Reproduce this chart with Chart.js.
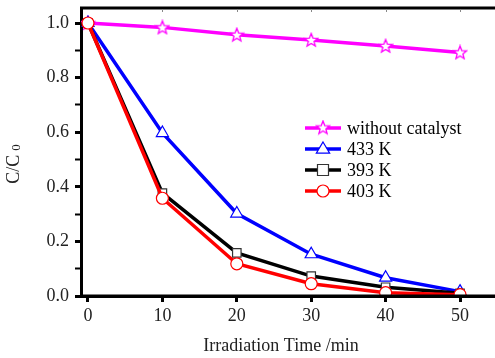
<!DOCTYPE html>
<html>
<head>
<meta charset="utf-8">
<script src="https://cdn.jsdelivr.net/npm/chart.js@4.4.0/dist/chart.umd.min.js"></script>
<style>
  html, body { margin: 0; padding: 0; background: #fff; }
  #wrap { width: 495px; height: 358px; position: relative; }
</style>
</head>
<body>
<div id="wrap"><canvas id="chart"></canvas></div>
<script>
// data
var times = [0, 10, 20, 30, 40, 50];
var noCatalyst = [1.0, 0.984, 0.957, 0.938, 0.916, 0.892];
var k433 = [1.0, 0.597, 0.302, 0.153, 0.067, 0.016];
var k393 = [1.0, 0.377, 0.158, 0.073, 0.032, 0.010];
var k403 = [1.0, 0.358, 0.118, 0.045, 0.012, 0.005];
var seriesNames = ['without catalyst', '433 K', '393 K', '403 K'];
var xTicks = [0, 10, 20, 30, 40, 50];

var serif = '"Liberation Serif", "DejaVu Serif", serif';

function starImage(color) {
    var c = document.createElement('canvas');
    c.width = 16; c.height = 16;
    var g = c.getContext('2d');
    g.fillStyle = '#fff';
    g.strokeStyle = color;
    g.lineWidth = 1.3;
    g.beginPath();
    for (var i = 0; i < 10; i++) {
        var r = (i % 2 === 0) ? 7 : 3;
        var a = -Math.PI / 2 + i * Math.PI / 5;
        var px = 8 + r * Math.cos(a), py = 8.5 + r * Math.sin(a);
        if (i === 0) g.moveTo(px, py); else g.lineTo(px, py);
    }
    g.closePath();
    g.fill();
    g.stroke();
    return c;
}
var star = starImage('#ff00ff');

function pts(arr) {
    return arr.map(function (v, i) { return { x: times[i], y: v }; });
}

var styles = [
    { color: '#ff00ff', point: star, radius: 7, order: 4 },
    { color: '#0000ff', point: 'triangle', radius: 7, order: 3 },
    { color: '#000000', point: 'rect', radius: 6, order: 2 },
    { color: '#ff0000', point: 'circle', radius: 6, order: 1 }
];
var values = [noCatalyst, k433, k393, k403];

var datasets = values.map(function (v, i) {
    var s = styles[i];
    return {
        label: seriesNames[i],
        data: pts(v),
        borderColor: s.color,
        borderWidth: 3.5,
        pointStyle: s.point,
        pointRadius: s.radius,
        pointBorderColor: i === 2 ? '#333' : s.color,
        pointBackgroundColor: '#fff',
        pointBorderWidth: 1.2,
        order: s.order,
        tension: 0
    };
});

var decor = {
    id: 'decor',
    afterDraw: function (chart) {
        var ctx = chart.ctx, a = chart.chartArea;
        var W = chart.width;
        ctx.save();
        // top border and axis line running to the edge
        ctx.fillStyle = '#000';
        ctx.fillRect(a.left - 1, a.top - 1.5, W - a.left + 1, 3);
        ctx.fillRect(a.left - 1, a.bottom - 1.5, W - a.left + 1, 3);
        // small inward ticks on top
        var xs = chart.scales.x;
        ctx.fillStyle = '#888';
        xTicks.forEach(function (t) {
            if (t === 0) return;
            ctx.fillRect(Math.round(xs.getPixelForValue(t)), a.top + 1, 1, 3);
        });

        // legend
        var lx = 305, ly = 128, gap = 21;
        ctx.textBaseline = 'middle';
        datasets.forEach(function (d, i) {
            var y = ly + i * gap;
            var s = styles[i];
            var cx = lx + 18;
            ctx.strokeStyle = s.color;
            ctx.lineWidth = 3.5;
            ctx.beginPath();
            ctx.moveTo(lx, y);
            ctx.lineTo(lx + 36, y);
            ctx.stroke();
            ctx.fillStyle = '#fff';
            ctx.strokeStyle = i === 2 ? '#333' : s.color;
            ctx.lineWidth = 1.2;
            if (s.point === star) {
                ctx.drawImage(star, cx - 8, y - 8.5);
            } else {
                ctx.beginPath();
                if (s.point === 'circle') {
                    ctx.arc(cx, y, s.radius, 0, Math.PI * 2);
                } else if (s.point === 'rect') {
                    ctx.rect(cx - 5.5, y - 5.5, 11, 11);
                } else {
                    var r = s.radius;
                    ctx.moveTo(cx, y - r);
                    ctx.lineTo(cx + r * 0.95, y + r * 0.6);
                    ctx.lineTo(cx - r * 0.95, y + r * 0.6);
                    ctx.closePath();
                }
                ctx.fill();
                ctx.stroke();
            }
            ctx.font = '18px ' + serif;
            ctx.fillStyle = '#000';
            ctx.textAlign = 'left';
            ctx.fillText(d.label, lx + 42, y + 1);
        });

        // x title
        ctx.font = '18px ' + serif;
        ctx.textAlign = 'center';
        ctx.textBaseline = 'alphabetic';
        ctx.fillStyle = '#222';
        ctx.fillText('Irradiation Time /min', 281, 351);

        // y title C/C0 rotated
        ctx.translate(19, 164);
        ctx.rotate(-Math.PI / 2);
        ctx.font = '18px ' + serif;
        ctx.textAlign = 'left';
        var w1 = ctx.measureText('C/C').width;
        ctx.font = '13px ' + serif;
        var w2 = ctx.measureText('0').width;
        var start = -(w1 + 4 + w2) / 2;
        ctx.font = '18px ' + serif;
        ctx.fillText('C/C', start, 0);
        ctx.font = '13px ' + serif;
        ctx.fillText('0', start + w1 + 4, 1);
        ctx.restore();
    }
};

new Chart(document.getElementById('chart'), {
    type: 'line',
    data: { datasets: datasets },
    options: {
        responsive: true,
        maintainAspectRatio: false,
        animation: false,
        layout: { autoPadding: false, padding: { top: 8, right: 0, left: 0, bottom: 0 } },
        plugins: {
            legend: { display: false },
            tooltip: { enabled: false }
        },
        scales: {
            x: {
                type: 'linear',
                min: -0.94,
                max: 54.7,
                afterBuildTicks: function (scale) {
                    scale.ticks = xTicks.map(function (v) { return { value: v }; });
                },
                afterFit: function (scale) {
                    scale.height = 62;
                    scale.paddingLeft = 0;
                    scale.paddingRight = 0;
                },
                border: { display: true, color: '#000', width: 3 },
                grid: {
                    drawOnChartArea: false,
                    drawTicks: true,
                    tickLength: 6,
                    tickWidth: 3,
                    tickColor: '#000'
                },
                ticks: {
                    font: { family: serif, size: 18 },
                    color: '#222',
                    padding: 3,
                    maxRotation: 0
                }
            },
            y: {
                min: 0,
                max: 1.055,
                afterBuildTicks: function (scale) {
                    var t = [];
                    for (var i = 0; i <= 10; i++) t.push({ value: i / 10 });
                    scale.ticks = t;
                },
                afterFit: function (scale) {
                    scale.width = 81;
                    scale.paddingTop = 0;
                    scale.paddingBottom = 0;
                },
                border: { display: true, color: '#000', width: 3 },
                grid: {
                    drawOnChartArea: false,
                    drawTicks: true,
                    tickLength: 6,
                    tickWidth: function (c) {
                        return Math.round(c.tick.value * 10) % 2 === 0 ? 3 : 2;
                    },
                    tickColor: '#000'
                },
                ticks: {
                    font: { family: serif, size: 18 },
                    color: '#222',
                    padding: 6,
                    callback: function (v) {
                        return Math.round(v * 10) % 2 === 0 ? v.toFixed(1) : '';
                    }
                }
            }
        }
    },
    plugins: [decor]
});
</script>
</body>
</html>
